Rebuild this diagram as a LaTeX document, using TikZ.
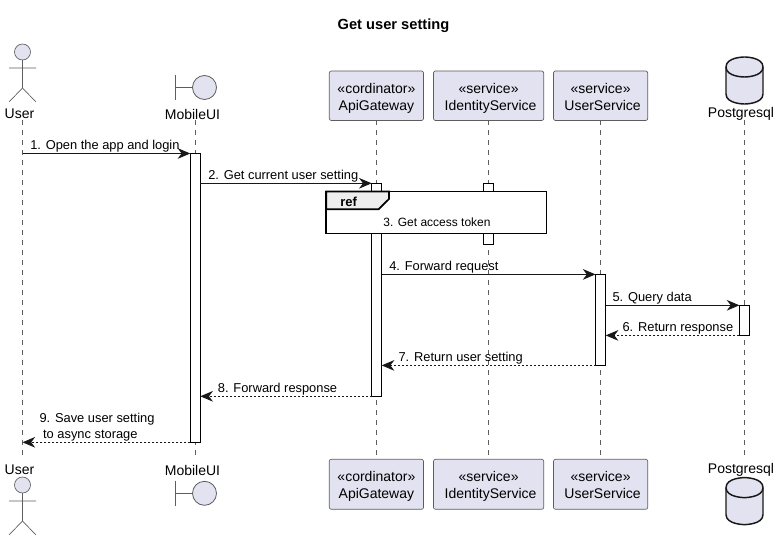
\documentclass[tikz,border=0pt]{standalone}
\usepackage{fontspec}
\setmainfont{Liberation Sans}
\usetikzlibrary{arrows.meta, fit}

\definecolor{partfill}{HTML}{E2E2F0}
\definecolor{inkdark}{HTML}{181818}

\tikzset{
    part/.style={draw=inkdark!70, line width=0.5pt, fill=partfill, rounded corners=1.5pt, align=center,
        inner sep=0pt, font=\fontsize{10.5pt}{12.75pt}\selectfont},
    partlabel/.style={inner sep=0pt, font=\fontsize{10.5pt}{12.75pt}\selectfont},
    lifeline/.style={draw=inkdark!70, line width=0.5pt, dash pattern=on 3.75pt off 3.75pt},
    activation/.style={draw=black, line width=0.75pt, fill=white, inner sep=0pt, outer sep=0pt},
    msg/.style={draw=inkdark, line width=0.75pt, -{Stealth[length=9.5pt, width=8pt, inset=3pt]}},
    msgback/.style={msg, dash pattern=on 1.5pt off 1.5pt},
    msglabel/.style={anchor=base west, inner sep=0pt, align=left, font=\fontsize{9.65pt}{12pt}\selectfont},
    pics/actorfig/.style={code={
        \draw[draw=inkdark!70, line width=0.5pt, fill=partfill] (0,8) circle (6pt);
        \draw[draw=inkdark!70, line width=0.5pt] (0,16) -- (0,44) (-13.5,24) -- (13.5,24) (-13.5,58) -- (0,44) -- (13.5,58);
    }},
    pics/boundaryfig/.style={code={
        \draw[draw=inkdark!70, line width=0.6pt, fill=partfill] (0,0) circle (9pt);
        \draw[draw=inkdark!70, line width=0.6pt] (-29,-12.5) -- (-29,12.5) (-29,0) -- (-12,0);
    }},
    pics/dbfig/.style={code={
        \draw[draw=inkdark, line width=1.1pt, fill=partfill] (726,67) .. controls (726,57) and (744.5,57) .. (744.5,57)
            .. controls (744.5,57) and (763,57) .. (763,67) -- (763,94) .. controls (763,104) and (744.5,104) .. (744.5,104)
            .. controls (744.5,104) and (726,104) .. (726,94) -- cycle;
        \draw[draw=inkdark, line width=1.1pt] (726,67) .. controls (726,77) and (744.5,77) .. (744.5,77)
            .. controls (744.5,77) and (763,77) .. (763,67);
    }},
}

\begin{document}
\begin{tikzpicture}[x=0.75pt, y=-0.75pt]
    \useasboundingbox (0,0) rectangle (781,541);

    % Title
    \node[inner sep=0pt, font=\fontsize{11pt}{12pt}\selectfont\bfseries] (title) at (393.5,25.5) {Get user setting};

    % Lifelines
    \coordinate (userTop) at (22.5,120);
    \coordinate (userBottom) at (22.5,456.5);
    \coordinate (uiTop) at (195,120);
    \coordinate (uiBottom) at (195,456.5);
    \coordinate (apiTop) at (376.5,120);
    \coordinate (apiBottom) at (376.5,459);
    \coordinate (idTop) at (488.5,120);
    \coordinate (idBottom) at (488.5,459);
    \coordinate (usTop) at (600.5,120);
    \coordinate (usBottom) at (600.5,459);
    \coordinate (pgTop) at (744.5,120);
    \coordinate (pgBottom) at (744.5,456.5);
    \draw[lifeline] (userTop) -- (userBottom);
    \draw[lifeline] (uiTop) -- (uiBottom);
    \draw[lifeline] (apiTop) -- (apiBottom);
    \draw[lifeline] (idTop) -- (idBottom);
    \draw[lifeline] (usTop) -- (usBottom);
    \draw[lifeline] (pgTop) -- (pgBottom);

    % Participants, top
    \pic at (22.5,44) {actorfig};
    \node[partlabel] (userHead) at (19.5,114) {User};
    \pic at (204.5,87.5) {boundaryfig};
    \node[partlabel] (uiHead) at (192.5,114) {MobileUI};
    \node[part, fit={(329.3,71)(423.5,120.5)}] (apiHead) {};
    \node[partlabel, align=center, yshift=-1.9pt] (apiHeadText) at (apiHead) {«cordinator»\\ApiGateway};
    \node[part, fit={(433.5,71)(543.7,120.5)}] (idHead) {};
    \node[partlabel, align=center, yshift=-1.9pt] (idHeadText) at (idHead) {«service»\\~IdentityService};
    \node[part, fit={(553.5,71)(647.7,120.5)}] (usHead) {};
    \node[partlabel, align=center, yshift=-1.9pt] (usHeadText) at (usHead) {«service»\\~UserService\vphantom{y}};
    \pic at (0,0) {dbfig};
    \node[partlabel] (pgHead) at (741,114) {Postgresql};

    % Participants, bottom
    \pic at (22.5,477) {actorfig};
    \node[partlabel] (userFoot) at (19.5,470) {User};
    \pic at (204.5,493.3) {boundaryfig};
    \node[partlabel] (uiFoot) at (192.5,470) {MobileUI};
    \node[part, fit={(329.3,459.3)(423.5,509.3)}] (apiFoot) {};
    \node[partlabel, align=center, yshift=-1.9pt] (apiFootText) at (apiFoot) {«cordinator»\\ApiGateway};
    \node[part, fit={(433.5,459.3)(543.7,509.3)}] (idFoot) {};
    \node[partlabel, align=center, yshift=-1.9pt] (idFootText) at (idFoot) {«service»\\~IdentityService};
    \node[part, fit={(553.5,459.3)(647.7,509.3)}] (usFoot) {};
    \node[partlabel, align=center, yshift=-1.9pt] (usFootText) at (usFoot) {«service»\\~UserService\vphantom{y}};
    \pic at (0,420.6) {dbfig};
    \node[partlabel] (pgFoot) at (741,470) {Postgresql};

    % Activations
    \node[activation, fit={(190.3,153.5)(200.3,442.3)}] (uiAct) {};
    \node[activation, fit={(371.7,183.3)(381.7,396.3)}] (apiAct) {};
    \node[activation, fit={(483.7,183.3)(493.7,244.3)}] (idAct) {};
    \node[activation, fit={(595.5,274.4)(605.7,365.4)}] (usAct) {};
    \node[activation, fit={(739.4,305.3)(749.6,335.4)}] (pgAct) {};

    % Reference frame
    \node[draw=black, line width=1.3pt, fill=white, inner sep=0pt, outer sep=0pt, fit={(326.3,191.5)(546.5,233.5)}] (refBox) {};
    \coordinate (refTabA) at (389,191.5);
    \coordinate (refTabB) at (389,199);
    \coordinate (refTabC) at (378.5,209.3);
    \coordinate (refTabD) at (326.3,209.3);
    \draw[draw=black, line width=1.3pt, fill=black!7] (refBox.north west) -- (refTabA) -- (refTabB) -- (refTabC) -- (refTabD) -- cycle;
    \node[inner sep=0pt, anchor=base west, font=\fontsize{9.75pt}{12pt}\selectfont\bfseries] (refTitle) at (340,207) {ref};
    \node[inner sep=0pt, font=\fontsize{9pt}{12pt}\selectfont] (refText) at (437,222) {3. Get access token};

    % Messages
    \draw[msg] (userTop |- uiAct.north) -- (uiAct.north west);
    \draw[msg] (uiAct.east |- apiAct.north) -- (apiAct.north west);
    \draw[msg] (apiAct.east |- usAct.north) -- (usAct.north west);
    \draw[msg] (usAct.east |- pgAct.north) -- (pgAct.north west);
    \draw[msgback] (pgAct.south west) -- (usAct.east |- pgAct.south);
    \draw[msgback] (usAct.south west) -- (apiAct.east |- usAct.south);
    \draw[msgback] (apiAct.south west) -- (uiAct.east |- apiAct.south);
    \draw[msgback] (uiAct.south west) -- (userTop |- uiAct.south);

    % Message labels
    \node[msglabel] (msgOne) at (30,150) {1. Open the app and login};
    \node[msglabel] (msgTwo) at (208,180) {2. Get current user setting};
    \node[msglabel] (msgFour) at (389,270.5) {4. Forward request};
    \node[msglabel] (msgFive) at (612.3,301) {5. Query data};
    \node[msglabel] (msgSix) at (622.3,331.5) {6. Return response};
    \node[msglabel] (msgSeven) at (398.3,361.5) {7. Return user setting};
    \node[msglabel] (msgEight) at (217.7,392) {8. Forward response};
    \node[msglabel] (msgNine) at (39.3,438.5) {9. Save user setting\\~to async storage};
\end{tikzpicture}
\end{document}
